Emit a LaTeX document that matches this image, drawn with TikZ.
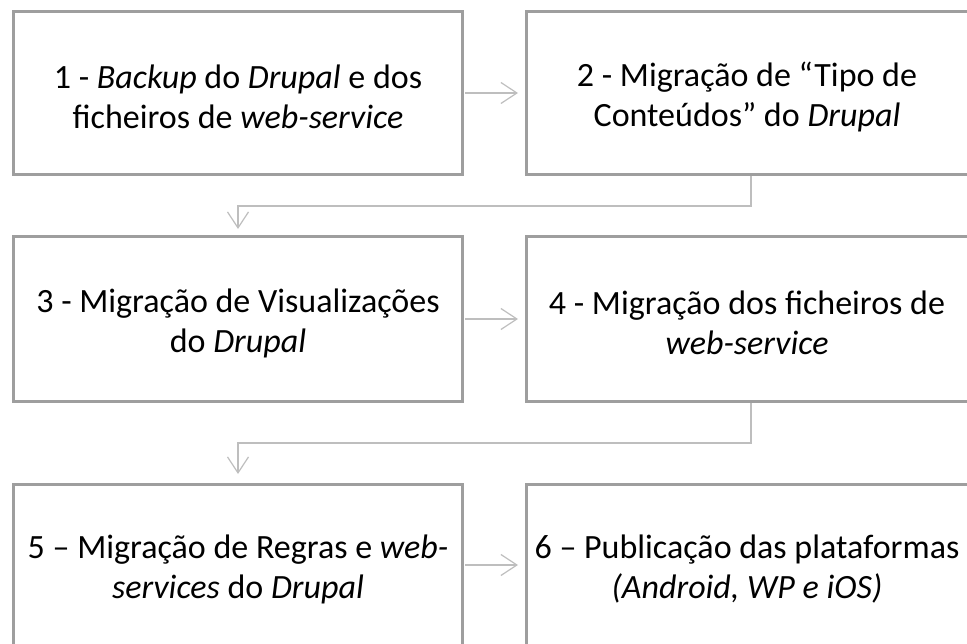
\documentclass[tikz,border=0pt]{standalone}
\usepackage{fontspec}
\setmainfont{Carlito}
\usetikzlibrary{arrows.meta}
\definecolor{boxgray}{RGB}{158,158,158}
\definecolor{linegray}{RGB}{190,190,190}
\begin{document}
\begin{tikzpicture}[x=1pt,y=-1pt,
  box/.style={draw=boxgray, line width=3pt, minimum width=449pt, inner sep=0pt},
  txt/.style={align=center, font=\fontsize{34pt}{40pt}\selectfont, inner sep=0pt, yshift=-4pt},
  conn/.style={draw=linegray, line width=1.4pt,
    -{Straight Barb[length=16pt,width=21pt,line width=1.2pt]}}]
\useasboundingbox (0,0) rectangle (967,644);
\clip (0,0) rectangle (967,644);
\node[box, minimum height=163pt] (b1) at (238,93) {};
\node[box, minimum height=163pt] (b2) at (751,93) {};
\node[box, minimum height=165pt] (b3) at (238,319) {};
\node[box, minimum height=165pt] (b4) at (751,319) {};
\node[box, minimum height=161pt] (b5) at (238,565) {};
\node[box, minimum height=161pt] (b6) at (751,565) {};
\node[txt] (t1) at (b1.center) {1 - \textit{Backup} do \textit{Drupal} e dos\\ficheiros de \textit{web-service}};
\node[txt, xshift=-4pt] (t2) at (b2.center) {2 - Migração de “Tipo de\\Conteúdos” do \textit{Drupal}};
\node[txt] (t3) at (b3.center) {3 - Migração de Visualizações\\do \textit{Drupal}};
\node[txt, xshift=-4pt] (t4) at (b4.center) {4 - Migração dos ficheiros de\\\textit{web-service}};
\node[txt] (t5) at (b5.center) {5 – Migração de Regras e \textit{web-}\\\textit{services} do \textit{Drupal}};
\node[txt, xshift=-4pt] (t6) at (b6.center) {6 – Publicação das plataformas\\\textit{(Android, WP e iOS)}};
\coordinate (m1) at (0,206);
\coordinate (m2) at (0,443);
\draw[conn, shorten <=1pt, shorten >=7pt] (b1.east) -- (b2.west);
\draw[conn, shorten <=1pt, shorten >=7pt] (b3.east) -- (b4.west);
\draw[conn, shorten <=1pt, shorten >=7pt] (b5.east) -- (b6.west);
\draw[conn, shorten >=6pt] (b2.south) -- (b2.south |- m1) -| (b3.north);
\draw[conn, shorten >=9pt] (b4.south) -- (b4.south |- m2) -| (b5.north);
\end{tikzpicture}
\end{document}
